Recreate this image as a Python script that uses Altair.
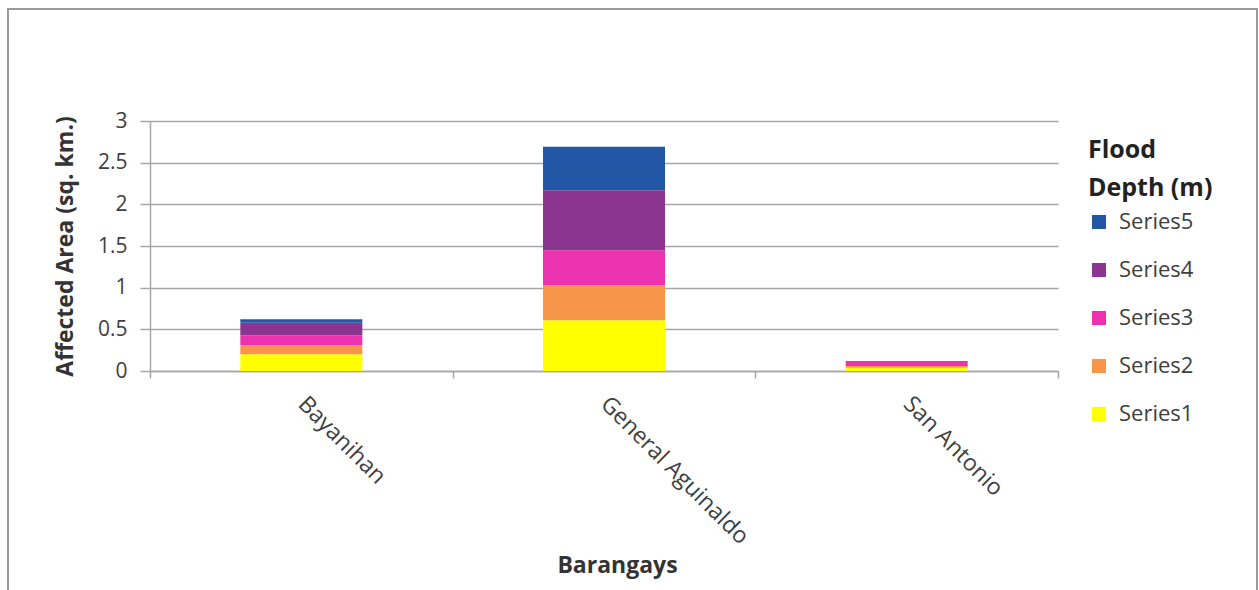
import altair as alt
import pandas as pd

# Affected area (sq. km.) per barangay, broken down by flood depth class
barangays = ["Bayanihan", "General Aguinaldo", "San Antonio"]
series_names = ["Series1", "Series2", "Series3", "Series4", "Series5"]
series1 = [0.20, 0.61, 0.04]
series2 = [0.11, 0.42, 0.02]
series3 = [0.12, 0.42, 0.05]
series4 = [0.15, 0.72, 0.01]
series5 = [0.04, 0.52, 0.00]

legend_order = ["Series5", "Series4", "Series3", "Series2", "Series1"]
palette = ["#2257A6", "#8B3590", "#EC32AE", "#F7964A", "#FFFF00"]

rows = []
for rank, (name, vals) in enumerate(zip(series_names, [series1, series2, series3, series4, series5])):
    for b, v in zip(barangays, vals):
        rows.append({"Barangay": b, "Series": name, "rank": rank, "Area": v})
df = pd.DataFrame(rows)

FONT = "Open Sans"

bars = alt.Chart(df).mark_bar(size=122).encode(
    x=alt.X("Barangay:N", sort=barangays, title="Barangays",
            scale=alt.Scale(paddingInner=0.0, paddingOuter=0.0),
            axis=alt.Axis(labelAngle=45, labelAlign="left", labelBaseline="middle",
                          labelPadding=22, labelLimit=500, tickBand="extent", tickSize=7,
                          labelFontSize=23, labelColor="#404040",
                          titleFontSize=23, titleFontWeight="bold", titleColor="#333333",
                          titleY=194, titleBaseline="middle", titleX=467,
                          domainColor="#A6A6A6", tickColor="#A6A6A6",
                          domainWidth=1.5, tickWidth=1.5, grid=False)),
    y=alt.Y("Area:Q", title="Affected Area (sq. km.)",
            scale=alt.Scale(domain=[0, 3]),
            axis=alt.Axis(values=[0, 0.5, 1, 1.5, 2, 2.5, 3], format="~g", tickSize=10,
                          labelPadding=13, labelFontSize=21, labelColor="#404040",
                          titleFontSize=23, titleFontWeight="bold", titleColor="#333333",
                          titleX=-85, titleY=125, titleBaseline="middle",
                          domainColor="#A6A6A6", tickColor="#A6A6A6",
                          domainWidth=1.5, tickWidth=1.5,
                          gridColor="#A6A6A6", gridWidth=1.5)),
    color=alt.Color("Series:N",
                    scale=alt.Scale(domain=legend_order, range=palette),
                    legend=alt.Legend(title=["Flood", "Depth (m)"], orient="none",
                                      legendX=938, legendY=17,
                                      titleFontSize=25, titleFontWeight="bold",
                                      titleColor="#222222", titleLineHeight=38,
                                      titlePadding=10, labelFontSize=22,
                                      labelColor="#404040", symbolType="square",
                                      symbolSize=196, symbolStrokeWidth=0,
                                      rowPadding=26, labelOffset=9)),
    order=alt.Order("rank:Q", sort="ascending"),
)

# thin frame around the whole chart
frame = alt.Chart(df).mark_rect(fill=None, stroke="#9A9A9A", strokeWidth=2).encode(
    x=alt.value(-142), x2=alt.value(1107),
    y=alt.value(-112), y2=alt.value(490),
)

chart = alt.layer(bars, frame).properties(
    width=908, height=250,
    autosize=alt.AutoSizeParams(type="none"),
    padding={"left": 150, "top": 121, "right": 201, "bottom": 219},
    background="white",
).configure(font=FONT).configure_view(stroke=None)

chart.save("out.html", embed_options={"renderer": "svg", "actions": False})
